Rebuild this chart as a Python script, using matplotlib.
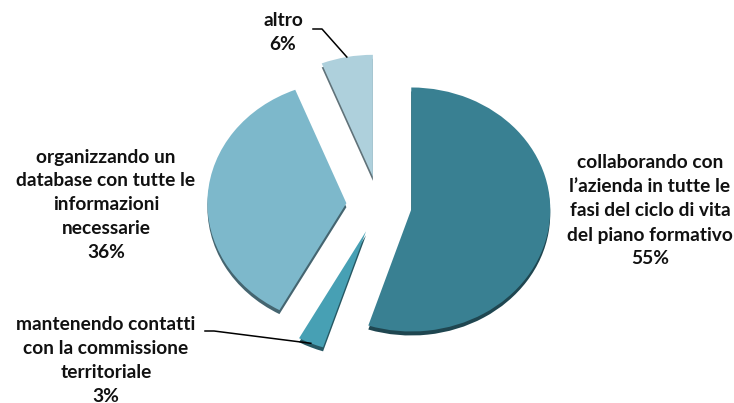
import numpy as np
import matplotlib.pyplot as plt
from matplotlib.colors import to_rgb

labels = [
    "collaborando con\nl\u2019azienda in tutte le\nfasi del ciclo di vita\ndel piano formativo",
    "mantenendo contatti\ncon la commissione\nterritoriale",
    "organizzando un\ndatabase con tutte le\ninformazioni\nnecessarie",
    "altro",
]
shares = [55, 3, 36, 6]
colors = ["#398092", "#47a0b4", "#7db8cb", "#aed0dc"]

# pixel geometry of the figure and the (elliptical) pie
W, H = 734, 403
cx, cy = 379, 205
rx, ry = 139, 122
explode = 0.235
depth = 4 / ry

fig = plt.figure(figsize=(W / 100, H / 100), dpi=100)
ax = fig.add_axes([0, 0, 1, 1])
ax.axis("off")


def px(x, y):
    return (x - cx) / rx, (cy - y) / ry


def darker(c, f=0.55):
    return tuple(v * f for v in to_rgb(c))


# side of the slices, shifted down a few pixels
ax.pie(shares, colors=[darker(c) for c in colors], startangle=90,
       counterclock=False, explode=[explode] * 4, center=(0, -depth),
       wedgeprops=dict(linewidth=0))
wedges, _ = ax.pie(shares, colors=colors, startangle=90, counterclock=False,
                   explode=[explode] * 4, wedgeprops=dict(linewidth=0))

ax.set_aspect("auto")
ax.set_xlim(-cx / rx, (W - cx) / rx)
ax.set_ylim(-(H - cy) / ry, cy / ry)

font = dict(family=["Lato", "DejaVu Sans"], fontweight="bold", fontsize=13.8,
            color="#111111", ha="center", va="center", linespacing=1.5)

label_pos = [(650, 211), (106, 360), (106, 205), (283, 33)]
for lab, val, (x, y) in zip(labels, shares, label_pos):
    ax.text(*px(x, y), f"{lab}\n{val}%", **font)


def arc_mid(w):
    a = np.deg2rad((w.theta1 + w.theta2) / 2)
    ox, oy = w.center
    return ox + w.r * np.cos(a), oy + w.r * np.sin(a)


# leader lines for the two small slices
for idx, start in [(3, (313, 29)), (1, (205, 331))]:
    x0, y0 = px(*start)
    x1, _ = px(start[0] + 9, start[1])
    x2, y2 = arc_mid(wedges[idx])
    ax.plot([x0, x1, x2], [y0, y0, y2], color="black", lw=1.1,
            solid_joinstyle="round")

fig.savefig("out.png", dpi=100)
